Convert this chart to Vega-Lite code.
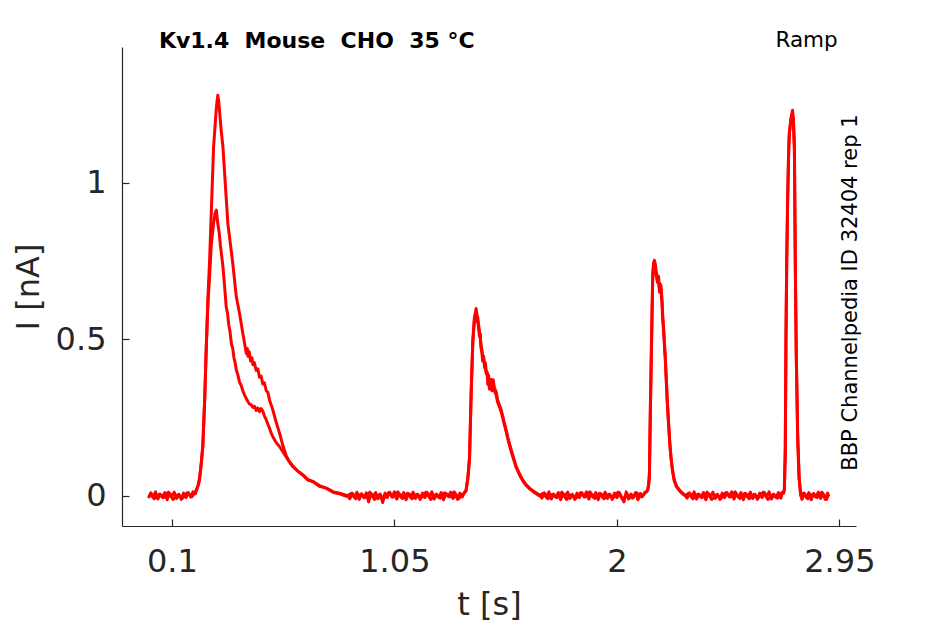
{
  "$schema": "https://vega.github.io/schema/vega-lite/v6.json",
  "width": 734,
  "height": 479,
  "autosize": {"type": "none"},
  "padding": {"left": 122, "top": 47, "right": 89, "bottom": 98},
  "background": "white",
  "config": {
    "view": {"stroke": null},
    "font": "DejaVu Sans",
    "axis": {
      "grid": false,
      "domainColor": "#262626",
      "domainWidth": 1.2,
      "tickColor": "#262626",
      "tickWidth": 1.2,
      "tickSize": -7,
      "labelColor": "#262626",
      "labelFont": "DejaVu Sans",
      "labelFontSize": 32,
      "titleColor": "#262626",
      "titleFont": "DejaVu Sans",
      "titleFontSize": 32,
      "titleFontWeight": "normal"
    }
  },
  "layer": [
    {
      "data": {
        "values": [
          {"s": "A", "t": 0, "I": -0.008}, {"s": "A", "t": 0.01, "I": 0.009}, {"s": "A", "t": 0.02, "I": -0.004}, {"s": "A", "t": 0.03, "I": 0.012},
          {"s": "A", "t": 0.04, "I": -0.011}, {"s": "A", "t": 0.05, "I": 0.005}, {"s": "A", "t": 0.06, "I": -0.006}, {"s": "A", "t": 0.07, "I": 0.01},
          {"s": "A", "t": 0.08, "I": -0.013}, {"s": "A", "t": 0.09, "I": 0.007}, {"s": "A", "t": 0.1, "I": -0.002}, {"s": "A", "t": 0.11, "I": 0.011},
          {"s": "A", "t": 0.12, "I": -0.009}, {"s": "A", "t": 0.13, "I": 0.004}, {"s": "A", "t": 0.14, "I": -0.012}, {"s": "A", "t": 0.15, "I": 0.008},
          {"s": "A", "t": 0.16, "I": -0.006}, {"s": "A", "t": 0.17, "I": 0.01}, {"s": "A", "t": 0.18, "I": -0.004}, {"s": "A", "t": 0.19, "I": 0.012},
          {"s": "A", "t": 0.2, "I": 0.006},
          {"s": "A", "t": 0.211, "I": 0.03}, {"s": "A", "t": 0.218, "I": 0.05}, {"s": "A", "t": 0.225, "I": 0.1}, {"s": "A", "t": 0.232, "I": 0.156},
          {"s": "A", "t": 0.24, "I": 0.3}, {"s": "A", "t": 0.247, "I": 0.476}, {"s": "A", "t": 0.254, "I": 0.635}, {"s": "A", "t": 0.261, "I": 0.75},
          {"s": "A", "t": 0.268, "I": 0.9}, {"s": "A", "t": 0.278, "I": 1.114}, {"s": "A", "t": 0.29, "I": 1.24}, {"s": "A", "t": 0.296, "I": 1.279},
          {"s": "A", "t": 0.3, "I": 1.26}, {"s": "A", "t": 0.31, "I": 1.17}, {"s": "A", "t": 0.318, "I": 1.114}, {"s": "A", "t": 0.332, "I": 0.95},
          {"s": "A", "t": 0.339, "I": 0.869}, {"s": "A", "t": 0.36, "I": 0.742}, {"s": "A", "t": 0.375, "I": 0.635}, {"s": "A", "t": 0.389, "I": 0.582},
          {"s": "A", "t": 0.403, "I": 0.518}, {"s": "A", "t": 0.418, "I": 0.454}, {"s": "A", "t": 0.422, "I": 0.47}, {"s": "A", "t": 0.425, "I": 0.445},
          {"s": "A", "t": 0.43, "I": 0.46}, {"s": "A", "t": 0.436, "I": 0.43}, {"s": "A", "t": 0.442, "I": 0.44}, {"s": "A", "t": 0.446, "I": 0.418},
          {"s": "A", "t": 0.452, "I": 0.425}, {"s": "A", "t": 0.46, "I": 0.4}, {"s": "A", "t": 0.467, "I": 0.405}, {"s": "A", "t": 0.474, "I": 0.378},
          {"s": "A", "t": 0.481, "I": 0.382}, {"s": "A", "t": 0.488, "I": 0.357}, {"s": "A", "t": 0.495, "I": 0.36}, {"s": "A", "t": 0.503, "I": 0.335},
          {"s": "A", "t": 0.51, "I": 0.33}, {"s": "A", "t": 0.517, "I": 0.305}, {"s": "A", "t": 0.531, "I": 0.274}, {"s": "A", "t": 0.545, "I": 0.235},
          {"s": "A", "t": 0.56, "I": 0.199}, {"s": "A", "t": 0.574, "I": 0.16}, {"s": "A", "t": 0.588, "I": 0.128}, {"s": "A", "t": 0.6, "I": 0.11},
          {"s": "A", "t": 0.616, "I": 0.095}, {"s": "A", "t": 0.635, "I": 0.08}, {"s": "A", "t": 0.659, "I": 0.066}, {"s": "A", "t": 0.68, "I": 0.05},
          {"s": "A", "t": 0.702, "I": 0.045}, {"s": "A", "t": 0.73, "I": 0.03}, {"s": "A", "t": 0.759, "I": 0.024}, {"s": "A", "t": 0.79, "I": 0.012},
          {"s": "A", "t": 0.816, "I": 0.008}, {"s": "A", "t": 0.85, "I": 0.0},
          {"s": "A", "t": 0.86, "I": -0.01}, {"s": "A", "t": 0.87, "I": 0.008}, {"s": "A", "t": 0.88, "I": -0.005}, {"s": "A", "t": 0.89, "I": 0.011},
          {"s": "A", "t": 0.9, "I": -0.012}, {"s": "A", "t": 0.91, "I": 0.006}, {"s": "A", "t": 0.92, "I": -0.007}, {"s": "A", "t": 0.93, "I": 0.009},
          {"s": "A", "t": 0.94, "I": -0.02}, {"s": "A", "t": 0.95, "I": 0.007}, {"s": "A", "t": 0.96, "I": -0.003}, {"s": "A", "t": 0.97, "I": 0.01},
          {"s": "A", "t": 0.98, "I": -0.01}, {"s": "A", "t": 0.99, "I": 0.005}, {"s": "A", "t": 1.0, "I": -0.022}, {"s": "A", "t": 1.01, "I": 0.008},
          {"s": "A", "t": 1.02, "I": -0.006}, {"s": "A", "t": 1.03, "I": 0.011}, {"s": "A", "t": 1.04, "I": -0.005}, {"s": "A", "t": 1.05, "I": 0.012},
          {"s": "A", "t": 1.06, "I": -0.011}, {"s": "A", "t": 1.07, "I": 0.005}, {"s": "A", "t": 1.08, "I": -0.007}, {"s": "A", "t": 1.09, "I": 0.01},
          {"s": "A", "t": 1.1, "I": -0.013}, {"s": "A", "t": 1.11, "I": 0.007}, {"s": "A", "t": 1.12, "I": -0.002}, {"s": "A", "t": 1.13, "I": 0.011},
          {"s": "A", "t": 1.14, "I": -0.009}, {"s": "A", "t": 1.15, "I": 0.004}, {"s": "A", "t": 1.16, "I": -0.012}, {"s": "A", "t": 1.17, "I": 0.008},
          {"s": "A", "t": 1.18, "I": -0.006}, {"s": "A", "t": 1.19, "I": 0.01}, {"s": "A", "t": 1.2, "I": -0.004}, {"s": "A", "t": 1.21, "I": 0.012},
          {"s": "A", "t": 1.22, "I": -0.011}, {"s": "A", "t": 1.23, "I": 0.005}, {"s": "A", "t": 1.24, "I": -0.006}, {"s": "A", "t": 1.25, "I": 0.01},
          {"s": "A", "t": 1.26, "I": -0.013}, {"s": "A", "t": 1.27, "I": 0.007}, {"s": "A", "t": 1.28, "I": -0.002}, {"s": "A", "t": 1.29, "I": 0.011},
          {"s": "A", "t": 1.3, "I": -0.009}, {"s": "A", "t": 1.31, "I": 0.004}, {"s": "A", "t": 1.32, "I": -0.012}, {"s": "A", "t": 1.33, "I": 0.008},
          {"s": "A", "t": 1.34, "I": -0.004}, {"s": "A", "t": 1.348, "I": 0.008},
          {"s": "A", "t": 1.356, "I": 0.018}, {"s": "A", "t": 1.364, "I": 0.06}, {"s": "A", "t": 1.371, "I": 0.124}, {"s": "A", "t": 1.378, "I": 0.337},
          {"s": "A", "t": 1.385, "I": 0.497}, {"s": "A", "t": 1.392, "I": 0.57}, {"s": "A", "t": 1.399, "I": 0.598}, {"s": "A", "t": 1.406, "I": 0.56},
          {"s": "A", "t": 1.413, "I": 0.529}, {"s": "A", "t": 1.417, "I": 0.5}, {"s": "A", "t": 1.42, "I": 0.48}, {"s": "A", "t": 1.424, "I": 0.465},
          {"s": "A", "t": 1.427, "I": 0.444}, {"s": "A", "t": 1.431, "I": 0.438}, {"s": "A", "t": 1.435, "I": 0.42}, {"s": "A", "t": 1.438, "I": 0.425},
          {"s": "A", "t": 1.442, "I": 0.401}, {"s": "A", "t": 1.446, "I": 0.39}, {"s": "A", "t": 1.449, "I": 0.37}, {"s": "A", "t": 1.452, "I": 0.385},
          {"s": "A", "t": 1.456, "I": 0.348}, {"s": "A", "t": 1.462, "I": 0.372}, {"s": "A", "t": 1.467, "I": 0.35}, {"s": "A", "t": 1.472, "I": 0.37},
          {"s": "A", "t": 1.477, "I": 0.345}, {"s": "A", "t": 1.485, "I": 0.33}, {"s": "A", "t": 1.491, "I": 0.305}, {"s": "A", "t": 1.506, "I": 0.274},
          {"s": "A", "t": 1.517, "I": 0.24}, {"s": "A", "t": 1.527, "I": 0.21}, {"s": "A", "t": 1.538, "I": 0.175}, {"s": "A", "t": 1.549, "I": 0.146},
          {"s": "A", "t": 1.56, "I": 0.118}, {"s": "A", "t": 1.57, "I": 0.093}, {"s": "A", "t": 1.584, "I": 0.07}, {"s": "A", "t": 1.598, "I": 0.05},
          {"s": "A", "t": 1.612, "I": 0.035}, {"s": "A", "t": 1.627, "I": 0.024}, {"s": "A", "t": 1.648, "I": 0.012}, {"s": "A", "t": 1.67, "I": 0.002},
          {"s": "A", "t": 1.68, "I": -0.008}, {"s": "A", "t": 1.69, "I": 0.009}, {"s": "A", "t": 1.7, "I": -0.004}, {"s": "A", "t": 1.71, "I": 0.012},
          {"s": "A", "t": 1.72, "I": -0.011}, {"s": "A", "t": 1.73, "I": 0.005}, {"s": "A", "t": 1.74, "I": -0.006}, {"s": "A", "t": 1.75, "I": 0.01},
          {"s": "A", "t": 1.76, "I": -0.013}, {"s": "A", "t": 1.77, "I": 0.007}, {"s": "A", "t": 1.78, "I": -0.002}, {"s": "A", "t": 1.79, "I": 0.011},
          {"s": "A", "t": 1.8, "I": -0.009}, {"s": "A", "t": 1.81, "I": 0.004}, {"s": "A", "t": 1.82, "I": -0.012}, {"s": "A", "t": 1.83, "I": 0.008},
          {"s": "A", "t": 1.84, "I": -0.006}, {"s": "A", "t": 1.85, "I": 0.01}, {"s": "A", "t": 1.86, "I": -0.004}, {"s": "A", "t": 1.87, "I": 0.012},
          {"s": "A", "t": 1.88, "I": -0.011}, {"s": "A", "t": 1.89, "I": 0.005}, {"s": "A", "t": 1.9, "I": -0.006}, {"s": "A", "t": 1.91, "I": 0.01},
          {"s": "A", "t": 1.92, "I": -0.013}, {"s": "A", "t": 1.93, "I": 0.007}, {"s": "A", "t": 1.94, "I": -0.002}, {"s": "A", "t": 1.95, "I": 0.011},
          {"s": "A", "t": 1.96, "I": -0.009}, {"s": "A", "t": 1.97, "I": 0.004}, {"s": "A", "t": 1.98, "I": -0.012}, {"s": "A", "t": 1.99, "I": 0.008},
          {"s": "A", "t": 2.0, "I": -0.006}, {"s": "A", "t": 2.01, "I": 0.01}, {"s": "A", "t": 2.02, "I": -0.004}, {"s": "A", "t": 2.03, "I": -0.02},
          {"s": "A", "t": 2.04, "I": 0.012}, {"s": "A", "t": 2.05, "I": -0.011}, {"s": "A", "t": 2.06, "I": 0.005}, {"s": "A", "t": 2.07, "I": -0.006},
          {"s": "A", "t": 2.08, "I": 0.01}, {"s": "A", "t": 2.09, "I": -0.013}, {"s": "A", "t": 2.1, "I": 0.007}, {"s": "A", "t": 2.11, "I": -0.002},
          {"s": "A", "t": 2.12, "I": 0.011}, {"s": "A", "t": 2.127, "I": 0.012},
          {"s": "A", "t": 2.132, "I": 0.02}, {"s": "A", "t": 2.136, "I": 0.04}, {"s": "A", "t": 2.139, "I": 0.071}, {"s": "A", "t": 2.143, "I": 0.284},
          {"s": "A", "t": 2.148, "I": 0.497}, {"s": "A", "t": 2.153, "I": 0.71}, {"s": "A", "t": 2.157, "I": 0.745}, {"s": "A", "t": 2.16, "I": 0.752},
          {"s": "A", "t": 2.164, "I": 0.74}, {"s": "A", "t": 2.167, "I": 0.72}, {"s": "A", "t": 2.171, "I": 0.705}, {"s": "A", "t": 2.174, "I": 0.69},
          {"s": "A", "t": 2.178, "I": 0.7}, {"s": "A", "t": 2.182, "I": 0.66}, {"s": "A", "t": 2.186, "I": 0.675}, {"s": "A", "t": 2.189, "I": 0.667},
          {"s": "A", "t": 2.193, "I": 0.62}, {"s": "A", "t": 2.196, "I": 0.571}, {"s": "A", "t": 2.2, "I": 0.53}, {"s": "A", "t": 2.203, "I": 0.49},
          {"s": "A", "t": 2.207, "I": 0.44}, {"s": "A", "t": 2.21, "I": 0.391}, {"s": "A", "t": 2.215, "I": 0.31}, {"s": "A", "t": 2.221, "I": 0.231},
          {"s": "A", "t": 2.226, "I": 0.17}, {"s": "A", "t": 2.231, "I": 0.124}, {"s": "A", "t": 2.238, "I": 0.08}, {"s": "A", "t": 2.245, "I": 0.05},
          {"s": "A", "t": 2.255, "I": 0.03}, {"s": "A", "t": 2.267, "I": 0.018}, {"s": "A", "t": 2.28, "I": 0.008}, {"s": "A", "t": 2.29, "I": 0.002},
          {"s": "A", "t": 2.3, "I": -0.008}, {"s": "A", "t": 2.31, "I": 0.009}, {"s": "A", "t": 2.32, "I": -0.004}, {"s": "A", "t": 2.33, "I": 0.012},
          {"s": "A", "t": 2.34, "I": -0.011}, {"s": "A", "t": 2.35, "I": 0.005}, {"s": "A", "t": 2.36, "I": -0.006}, {"s": "A", "t": 2.37, "I": 0.01},
          {"s": "A", "t": 2.38, "I": -0.013}, {"s": "A", "t": 2.39, "I": 0.007}, {"s": "A", "t": 2.4, "I": -0.002}, {"s": "A", "t": 2.41, "I": 0.011},
          {"s": "A", "t": 2.42, "I": -0.009}, {"s": "A", "t": 2.43, "I": 0.004}, {"s": "A", "t": 2.44, "I": -0.012}, {"s": "A", "t": 2.45, "I": 0.008},
          {"s": "A", "t": 2.46, "I": -0.006}, {"s": "A", "t": 2.47, "I": 0.01}, {"s": "A", "t": 2.48, "I": -0.004}, {"s": "A", "t": 2.49, "I": 0.012},
          {"s": "A", "t": 2.5, "I": -0.011}, {"s": "A", "t": 2.51, "I": 0.005}, {"s": "A", "t": 2.52, "I": -0.006}, {"s": "A", "t": 2.53, "I": 0.01},
          {"s": "A", "t": 2.54, "I": -0.013}, {"s": "A", "t": 2.55, "I": 0.007}, {"s": "A", "t": 2.56, "I": -0.002}, {"s": "A", "t": 2.57, "I": 0.011},
          {"s": "A", "t": 2.58, "I": -0.009}, {"s": "A", "t": 2.59, "I": 0.004}, {"s": "A", "t": 2.6, "I": -0.012}, {"s": "A", "t": 2.61, "I": 0.008},
          {"s": "A", "t": 2.62, "I": -0.006}, {"s": "A", "t": 2.63, "I": 0.01}, {"s": "A", "t": 2.64, "I": -0.004}, {"s": "A", "t": 2.65, "I": 0.012},
          {"s": "A", "t": 2.66, "I": -0.011}, {"s": "A", "t": 2.67, "I": 0.005}, {"s": "A", "t": 2.68, "I": -0.006}, {"s": "A", "t": 2.69, "I": 0.01},
          {"s": "A", "t": 2.7, "I": -0.008}, {"s": "A", "t": 2.707, "I": 0.01}, {"s": "A", "t": 2.712, "I": 0.012},
          {"s": "A", "t": 2.715, "I": 0.02}, {"s": "A", "t": 2.719, "I": 0.15}, {"s": "A", "t": 2.722, "I": 0.518}, {"s": "A", "t": 2.725, "I": 0.75},
          {"s": "A", "t": 2.729, "I": 0.943}, {"s": "A", "t": 2.733, "I": 1.09}, {"s": "A", "t": 2.736, "I": 1.157}, {"s": "A", "t": 2.743, "I": 1.205},
          {"s": "A", "t": 2.75, "I": 1.231}, {"s": "A", "t": 2.754, "I": 1.2}, {"s": "A", "t": 2.758, "I": 1.12}, {"s": "A", "t": 2.762, "I": 0.731},
          {"s": "A", "t": 2.766, "I": 0.45}, {"s": "A", "t": 2.772, "I": 0.199}, {"s": "A", "t": 2.778, "I": 0.06}, {"s": "A", "t": 2.784, "I": 0.005},
          {"s": "A", "t": 2.79, "I": -0.012}, {"s": "A", "t": 2.8, "I": 0.008}, {"s": "A", "t": 2.81, "I": -0.006}, {"s": "A", "t": 2.82, "I": 0.01},
          {"s": "A", "t": 2.83, "I": -0.013}, {"s": "A", "t": 2.84, "I": 0.007}, {"s": "A", "t": 2.85, "I": -0.004}, {"s": "A", "t": 2.86, "I": 0.011},
          {"s": "A", "t": 2.87, "I": -0.009}, {"s": "A", "t": 2.88, "I": 0.006}, {"s": "A", "t": 2.89, "I": -0.012}, {"s": "A", "t": 2.9, "I": 0.008},
          {"s": "A", "t": 2.904, "I": -0.002},

          {"s": "B", "t": 0.005, "I": 0.007}, {"s": "B", "t": 0.025, "I": -0.01}, {"s": "B", "t": 0.045, "I": 0.004}, {"s": "B", "t": 0.065, "I": -0.006},
          {"s": "B", "t": 0.085, "I": 0.011}, {"s": "B", "t": 0.105, "I": -0.012}, {"s": "B", "t": 0.125, "I": 0.003}, {"s": "B", "t": 0.145, "I": -0.008},
          {"s": "B", "t": 0.165, "I": 0.009}, {"s": "B", "t": 0.185, "I": -0.004}, {"s": "B", "t": 0.2, "I": 0.012},
          {"s": "B", "t": 0.211, "I": 0.03}, {"s": "B", "t": 0.218, "I": 0.055}, {"s": "B", "t": 0.225, "I": 0.1}, {"s": "B", "t": 0.232, "I": 0.16},
          {"s": "B", "t": 0.24, "I": 0.31}, {"s": "B", "t": 0.247, "I": 0.48}, {"s": "B", "t": 0.254, "I": 0.615}, {"s": "B", "t": 0.261, "I": 0.7},
          {"s": "B", "t": 0.268, "I": 0.8}, {"s": "B", "t": 0.278, "I": 0.87}, {"s": "B", "t": 0.284, "I": 0.9}, {"s": "B", "t": 0.29, "I": 0.912},
          {"s": "B", "t": 0.293, "I": 0.89}, {"s": "B", "t": 0.296, "I": 0.869}, {"s": "B", "t": 0.302, "I": 0.84}, {"s": "B", "t": 0.307, "I": 0.8},
          {"s": "B", "t": 0.312, "I": 0.77}, {"s": "B", "t": 0.318, "I": 0.731}, {"s": "B", "t": 0.325, "I": 0.67}, {"s": "B", "t": 0.332, "I": 0.603},
          {"s": "B", "t": 0.338, "I": 0.58}, {"s": "B", "t": 0.343, "I": 0.545}, {"s": "B", "t": 0.348, "I": 0.525}, {"s": "B", "t": 0.354, "I": 0.486},
          {"s": "B", "t": 0.36, "I": 0.47}, {"s": "B", "t": 0.365, "I": 0.44}, {"s": "B", "t": 0.37, "I": 0.425}, {"s": "B", "t": 0.375, "I": 0.401},
          {"s": "B", "t": 0.382, "I": 0.385}, {"s": "B", "t": 0.389, "I": 0.362}, {"s": "B", "t": 0.396, "I": 0.352}, {"s": "B", "t": 0.403, "I": 0.335},
          {"s": "B", "t": 0.41, "I": 0.322}, {"s": "B", "t": 0.418, "I": 0.31}, {"s": "B", "t": 0.425, "I": 0.3}, {"s": "B", "t": 0.432, "I": 0.292},
          {"s": "B", "t": 0.439, "I": 0.29}, {"s": "B", "t": 0.446, "I": 0.282}, {"s": "B", "t": 0.453, "I": 0.285}, {"s": "B", "t": 0.46, "I": 0.272},
          {"s": "B", "t": 0.467, "I": 0.28}, {"s": "B", "t": 0.474, "I": 0.268}, {"s": "B", "t": 0.481, "I": 0.278}, {"s": "B", "t": 0.488, "I": 0.27},
          {"s": "B", "t": 0.495, "I": 0.255}, {"s": "B", "t": 0.503, "I": 0.242}, {"s": "B", "t": 0.51, "I": 0.228}, {"s": "B", "t": 0.517, "I": 0.215},
          {"s": "B", "t": 0.524, "I": 0.2}, {"s": "B", "t": 0.531, "I": 0.188}, {"s": "B", "t": 0.545, "I": 0.17}, {"s": "B", "t": 0.56, "I": 0.156},
          {"s": "B", "t": 0.574, "I": 0.14}, {"s": "B", "t": 0.588, "I": 0.124}, {"s": "B", "t": 0.6, "I": 0.11}, {"s": "B", "t": 0.616, "I": 0.093},
          {"s": "B", "t": 0.635, "I": 0.08}, {"s": "B", "t": 0.659, "I": 0.066}, {"s": "B", "t": 0.68, "I": 0.052}, {"s": "B", "t": 0.702, "I": 0.045},
          {"s": "B", "t": 0.73, "I": 0.032}, {"s": "B", "t": 0.759, "I": 0.024}, {"s": "B", "t": 0.79, "I": 0.01}, {"s": "B", "t": 0.816, "I": 0.006},
          {"s": "B", "t": 0.845, "I": -0.002},
          {"s": "B", "t": 0.865, "I": 0.007}, {"s": "B", "t": 0.885, "I": -0.01}, {"s": "B", "t": 0.905, "I": 0.004}, {"s": "B", "t": 0.925, "I": -0.006},
          {"s": "B", "t": 0.945, "I": 0.011}, {"s": "B", "t": 0.965, "I": -0.012}, {"s": "B", "t": 0.985, "I": 0.003}, {"s": "B", "t": 1.005, "I": -0.008},
          {"s": "B", "t": 1.025, "I": 0.009}, {"s": "B", "t": 1.045, "I": -0.004}, {"s": "B", "t": 1.065, "I": 0.012}, {"s": "B", "t": 1.085, "I": -0.009},
          {"s": "B", "t": 1.105, "I": 0.007}, {"s": "B", "t": 1.125, "I": -0.01}, {"s": "B", "t": 1.145, "I": 0.004}, {"s": "B", "t": 1.165, "I": -0.006},
          {"s": "B", "t": 1.185, "I": 0.011}, {"s": "B", "t": 1.205, "I": -0.012}, {"s": "B", "t": 1.225, "I": 0.003}, {"s": "B", "t": 1.245, "I": -0.008},
          {"s": "B", "t": 1.265, "I": 0.009}, {"s": "B", "t": 1.285, "I": -0.004}, {"s": "B", "t": 1.305, "I": 0.012}, {"s": "B", "t": 1.325, "I": -0.009},
          {"s": "B", "t": 1.345, "I": 0.006},
          {"s": "B", "t": 1.356, "I": 0.015}, {"s": "B", "t": 1.364, "I": 0.055}, {"s": "B", "t": 1.371, "I": 0.12}, {"s": "B", "t": 1.378, "I": 0.33},
          {"s": "B", "t": 1.385, "I": 0.49}, {"s": "B", "t": 1.392, "I": 0.565}, {"s": "B", "t": 1.399, "I": 0.585}, {"s": "B", "t": 1.403, "I": 0.555},
          {"s": "B", "t": 1.406, "I": 0.57}, {"s": "B", "t": 1.41, "I": 0.53}, {"s": "B", "t": 1.413, "I": 0.51}, {"s": "B", "t": 1.417, "I": 0.515},
          {"s": "B", "t": 1.42, "I": 0.47}, {"s": "B", "t": 1.424, "I": 0.455}, {"s": "B", "t": 1.427, "I": 0.43}, {"s": "B", "t": 1.431, "I": 0.445},
          {"s": "B", "t": 1.435, "I": 0.41}, {"s": "B", "t": 1.438, "I": 0.405}, {"s": "B", "t": 1.442, "I": 0.39}, {"s": "B", "t": 1.446, "I": 0.395},
          {"s": "B", "t": 1.449, "I": 0.355}, {"s": "B", "t": 1.452, "I": 0.37}, {"s": "B", "t": 1.456, "I": 0.34}, {"s": "B", "t": 1.462, "I": 0.36},
          {"s": "B", "t": 1.467, "I": 0.335}, {"s": "B", "t": 1.472, "I": 0.355}, {"s": "B", "t": 1.477, "I": 0.335}, {"s": "B", "t": 1.485, "I": 0.32},
          {"s": "B", "t": 1.491, "I": 0.298}, {"s": "B", "t": 1.506, "I": 0.268}, {"s": "B", "t": 1.517, "I": 0.235}, {"s": "B", "t": 1.527, "I": 0.205},
          {"s": "B", "t": 1.538, "I": 0.17}, {"s": "B", "t": 1.549, "I": 0.14}, {"s": "B", "t": 1.56, "I": 0.114}, {"s": "B", "t": 1.57, "I": 0.09},
          {"s": "B", "t": 1.584, "I": 0.067}, {"s": "B", "t": 1.598, "I": 0.048}, {"s": "B", "t": 1.612, "I": 0.033}, {"s": "B", "t": 1.627, "I": 0.022},
          {"s": "B", "t": 1.648, "I": 0.01}, {"s": "B", "t": 1.667, "I": 0.0},
          {"s": "B", "t": 1.685, "I": 0.007}, {"s": "B", "t": 1.705, "I": -0.01}, {"s": "B", "t": 1.725, "I": 0.004}, {"s": "B", "t": 1.745, "I": -0.006},
          {"s": "B", "t": 1.765, "I": 0.011}, {"s": "B", "t": 1.785, "I": -0.012}, {"s": "B", "t": 1.805, "I": 0.003}, {"s": "B", "t": 1.825, "I": -0.008},
          {"s": "B", "t": 1.845, "I": 0.009}, {"s": "B", "t": 1.865, "I": -0.004}, {"s": "B", "t": 1.885, "I": 0.012}, {"s": "B", "t": 1.905, "I": -0.009},
          {"s": "B", "t": 1.925, "I": 0.007}, {"s": "B", "t": 1.945, "I": -0.01}, {"s": "B", "t": 1.965, "I": 0.004}, {"s": "B", "t": 1.985, "I": -0.006},
          {"s": "B", "t": 2.005, "I": 0.011}, {"s": "B", "t": 2.025, "I": -0.012}, {"s": "B", "t": 2.045, "I": 0.003}, {"s": "B", "t": 2.065, "I": -0.008},
          {"s": "B", "t": 2.085, "I": 0.009}, {"s": "B", "t": 2.105, "I": -0.004}, {"s": "B", "t": 2.122, "I": 0.01},
          {"s": "B", "t": 2.132, "I": 0.018}, {"s": "B", "t": 2.136, "I": 0.035}, {"s": "B", "t": 2.139, "I": 0.065}, {"s": "B", "t": 2.143, "I": 0.27},
          {"s": "B", "t": 2.148, "I": 0.48}, {"s": "B", "t": 2.153, "I": 0.69}, {"s": "B", "t": 2.157, "I": 0.735}, {"s": "B", "t": 2.16, "I": 0.742},
          {"s": "B", "t": 2.164, "I": 0.728}, {"s": "B", "t": 2.167, "I": 0.71}, {"s": "B", "t": 2.171, "I": 0.69}, {"s": "B", "t": 2.174, "I": 0.68},
          {"s": "B", "t": 2.178, "I": 0.685}, {"s": "B", "t": 2.182, "I": 0.65}, {"s": "B", "t": 2.186, "I": 0.665}, {"s": "B", "t": 2.189, "I": 0.655},
          {"s": "B", "t": 2.193, "I": 0.61}, {"s": "B", "t": 2.196, "I": 0.56}, {"s": "B", "t": 2.2, "I": 0.52}, {"s": "B", "t": 2.203, "I": 0.48},
          {"s": "B", "t": 2.207, "I": 0.43}, {"s": "B", "t": 2.21, "I": 0.38}, {"s": "B", "t": 2.215, "I": 0.3}, {"s": "B", "t": 2.221, "I": 0.222},
          {"s": "B", "t": 2.226, "I": 0.165}, {"s": "B", "t": 2.231, "I": 0.12}, {"s": "B", "t": 2.238, "I": 0.076}, {"s": "B", "t": 2.245, "I": 0.048},
          {"s": "B", "t": 2.255, "I": 0.028}, {"s": "B", "t": 2.267, "I": 0.016}, {"s": "B", "t": 2.28, "I": 0.006}, {"s": "B", "t": 2.292, "I": 0.0},
          {"s": "B", "t": 2.305, "I": 0.007}, {"s": "B", "t": 2.325, "I": -0.01}, {"s": "B", "t": 2.345, "I": 0.004}, {"s": "B", "t": 2.365, "I": -0.006},
          {"s": "B", "t": 2.385, "I": 0.011}, {"s": "B", "t": 2.405, "I": -0.012}, {"s": "B", "t": 2.425, "I": 0.003}, {"s": "B", "t": 2.445, "I": -0.008},
          {"s": "B", "t": 2.465, "I": 0.009}, {"s": "B", "t": 2.485, "I": -0.004}, {"s": "B", "t": 2.505, "I": 0.012}, {"s": "B", "t": 2.525, "I": -0.009},
          {"s": "B", "t": 2.545, "I": 0.007}, {"s": "B", "t": 2.565, "I": -0.01}, {"s": "B", "t": 2.585, "I": 0.004}, {"s": "B", "t": 2.605, "I": -0.006},
          {"s": "B", "t": 2.625, "I": 0.011}, {"s": "B", "t": 2.645, "I": -0.012}, {"s": "B", "t": 2.665, "I": 0.003}, {"s": "B", "t": 2.685, "I": -0.008},
          {"s": "B", "t": 2.705, "I": 0.009}, {"s": "B", "t": 2.712, "I": 0.008},
          {"s": "B", "t": 2.715, "I": 0.018}, {"s": "B", "t": 2.719, "I": 0.13}, {"s": "B", "t": 2.722, "I": 0.49}, {"s": "B", "t": 2.725, "I": 0.72},
          {"s": "B", "t": 2.729, "I": 0.93}, {"s": "B", "t": 2.733, "I": 1.08}, {"s": "B", "t": 2.736, "I": 1.15}, {"s": "B", "t": 2.743, "I": 1.2},
          {"s": "B", "t": 2.75, "I": 1.222}, {"s": "B", "t": 2.754, "I": 1.19}, {"s": "B", "t": 2.758, "I": 1.1}, {"s": "B", "t": 2.762, "I": 0.72},
          {"s": "B", "t": 2.766, "I": 0.44}, {"s": "B", "t": 2.772, "I": 0.18}, {"s": "B", "t": 2.778, "I": 0.055}, {"s": "B", "t": 2.786, "I": 0.0},
          {"s": "B", "t": 2.795, "I": 0.007}, {"s": "B", "t": 2.815, "I": -0.01}, {"s": "B", "t": 2.835, "I": 0.004}, {"s": "B", "t": 2.855, "I": -0.006},
          {"s": "B", "t": 2.875, "I": 0.011}, {"s": "B", "t": 2.895, "I": -0.012}, {"s": "B", "t": 2.904, "I": 0.003}
        ]
      },
      "mark": {"type": "line", "color": "#ff0000", "strokeWidth": 3, "strokeJoin": "round"},
      "encoding": {
        "x": {
          "field": "t",
          "type": "quantitative",
          "title": "t [s]",
          "scale": {"domain": [-0.113, 3.021], "nice": false, "zero": false},
          "axis": {"values": [0.1, 1.05, 2, 2.95], "format": ".4~g", "labelPadding": 27, "titlePadding": 12}
        },
        "y": {
          "field": "I",
          "type": "quantitative",
          "title": "I [nA]",
          "scale": {"domain": [-0.097, 1.433], "nice": false, "zero": false},
          "axis": {"values": [0, 0.5, 1], "format": ".4~g", "labelPadding": 23, "titlePadding": 10}
        },
        "detail": {"field": "s"}
      }
    },
    {
      "data": {"values": [{}]},
      "mark": {"type": "text", "text": "Kv1.4\u00a0\u00a0Mouse\u00a0\u00a0CHO\u00a0\u00a035 °C", "align": "left", "baseline": "alphabetic", "font": "DejaVu Sans", "fontSize": 22, "fontWeight": "bold", "color": "#000000"},
      "encoding": {"x": {"datum": 0.0445}, "y": {"datum": 1.431}}
    },
    {
      "data": {"values": [{}]},
      "mark": {"type": "text", "text": "Ramp", "align": "center", "baseline": "alphabetic", "font": "DejaVu Sans", "fontSize": 21.5, "color": "#000000"},
      "encoding": {"x": {"datum": 2.8098}, "y": {"datum": 1.433}}
    },
    {
      "data": {"values": [{}]},
      "mark": {"type": "text", "text": "BBP Channelpedia ID 32404 rep 1", "align": "center", "baseline": "alphabetic", "angle": 270, "font": "DejaVu Sans", "fontSize": 21, "color": "#000000"},
      "encoding": {"x": {"datum": 3.0266}, "y": {"datum": 0.6486}}
    }
  ]
}
